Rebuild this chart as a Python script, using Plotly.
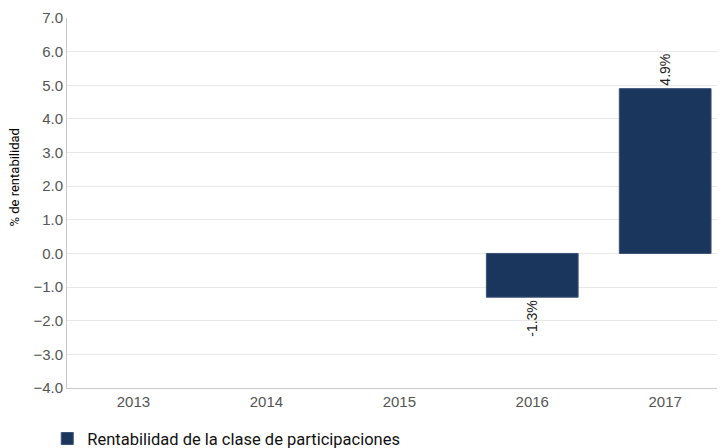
import plotly.graph_objects as go

years = ["2013", "2014", "2015", "2016", "2017"]
returns = [None, None, None, -1.3, 4.9]
labels = ["", "", "", "-1.3%", "4.9%"]
y_ticks = [7.0, 6.0, 5.0, 4.0, 3.0, 2.0, 1.0, 0.0, -1.0, -2.0, -3.0, -4.0]
y_title = "% de rentabilidad"

fig = go.Figure()
fig.add_trace(go.Bar(
    x=years, y=returns, text=labels, textposition="outside", textangle=-90,
    textfont=dict(family="Liberation Sans, Arial", size=14, color="#222"),
    marker=dict(color="#1b365d", line=dict(color="#3a5278", width=1)),
    width=0.69, cliponaxis=False,
    name="Rentabilidad de la clase de participaciones", showlegend=True,
))

fig.add_annotation(
    text=y_title, xref="paper", yref="paper", x=-0.0805, y=0.569,
    xanchor="center", yanchor="middle", textangle=-90, showarrow=False,
    font=dict(family="Roboto", size=13, color="#000"),
)

fig.update_layout(
    width=717, height=440,
    margin=dict(l=59, r=0, t=10, b=60, autoexpand=False),
    paper_bgcolor="white", plot_bgcolor="white",
    font=dict(family="Liberation Sans, Arial", size=15, color="#555"),
    xaxis=dict(type="category", range=[-0.5, 4.45], showgrid=False, automargin=False,
               showline=True, linecolor="#c8c8c8", linewidth=1,
               ticks="", tickfont=dict(size=15, color="#555")),
    yaxis=dict(range=[-4, 7], tickvals=y_ticks, tickformat=".1f", automargin=False,
               showgrid=True, gridcolor="#e8e8e8", gridwidth=1,
               zeroline=False, showline=True, linecolor="#c8c8c8", linewidth=1,
               ticks="", tickfont=dict(size=15, color="#555")),
    legend=dict(orientation="h", x=-0.03, xanchor="left", y=-0.09, yanchor="top",
                font=dict(family="Roboto", size=16.5, color="#111"),
                itemwidth=30),
)

fig.write_html("out.html")
